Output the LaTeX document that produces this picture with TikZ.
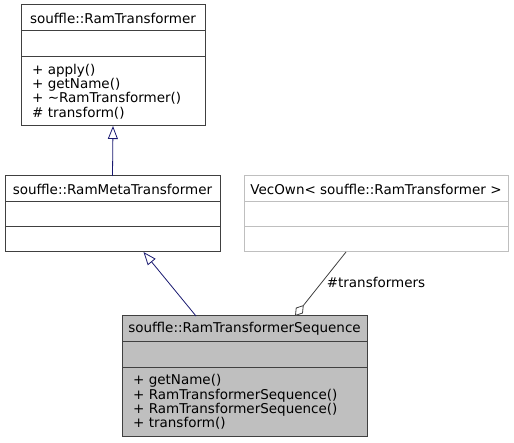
\documentclass[tikz,border=0pt]{standalone}
\usepackage{fontspec}
\setmainfont{DejaVu Sans}
\usetikzlibrary{arrows.meta,positioning}
\definecolor{edgegray}{HTML}{404040}
\definecolor{lightedge}{HTML}{BFBFBF}
\definecolor{fillgray}{HTML}{BFBFBF}
\definecolor{inheritblue}{HTML}{191970}
\begin{document}
\begin{tikzpicture}[x=1pt,y=-1pt]
	\tikzstyle{part}=[draw=edgegray,line width=1pt,rectangle,inner sep=0pt,outer sep=0pt,anchor=north west,font=\fontsize{13.5}{14.4}\selectfont]
	\tikzstyle{members}=[part,align=left,inner xsep=11pt]
	\tikzstyle{inherit}=[inheritblue,line width=0.8pt,-{Triangle[open,length=13pt,width=10pt,fill=white]}]
	\tikzstyle{aggregate}=[edgegray,line width=0.8pt,-{Diamond[open,length=14pt,width=9pt,fill=white]}]

	\useasboundingbox (0,0) rectangle (514,443);

	% base class
	\node[part,minimum width=184pt,minimum height=26pt] (transformer) at (21,5) {souffle::RamTransformer};
	\node[part,minimum width=184pt,minimum height=26pt,below=0pt of transformer] (transformer attr) {};
	\node[members,text width=162pt,minimum height=69pt,below=0pt of transformer attr] (transformer ops)
		{+ apply()\\+ getName()\\+ \textasciitilde RamTransformer()\\\# transform()};

	% meta class
	\node[part,minimum width=215pt,minimum height=26pt] (meta) at (5,176) {souffle::RamMetaTransformer};
	\node[part,minimum width=215pt,minimum height=25pt,below=0pt of meta] (meta attr) {};
	\node[part,minimum width=215pt,minimum height=25pt,below=0pt of meta attr] (meta ops) {};

	% container
	\node[part,draw=lightedge,minimum width=264pt,minimum height=26pt] (vecown) at (244,176) {VecOwn< souffle::RamTransformer >};
	\node[part,draw=lightedge,minimum width=264pt,minimum height=25pt,below=0pt of vecown] (vecown attr) {};
	\node[part,draw=lightedge,minimum width=264pt,minimum height=25pt,below=0pt of vecown attr] (vecown ops) {};

	% sequence
	\node[part,fill=fillgray,minimum width=245pt,minimum height=26pt] (sequence) at (122,316) {souffle::RamTransformerSequence};
	\node[part,fill=fillgray,minimum width=245pt,minimum height=26pt,below=0pt of sequence] (sequence attr) {};
	\node[members,fill=fillgray,text width=223pt,minimum height=68pt,below=0pt of sequence attr] (sequence ops)
		{+ getName()\\+ RamTransformerSequence()\\+ RamTransformerSequence()\\+ transform()};

	\draw[inherit] (meta.north) -- (transformer ops.south);
	\draw[inherit] ([xshift=-48.5pt]sequence.north) -- ([xshift=31pt]meta ops.south);
	\draw[aggregate] ([xshift=-30pt]vecown ops.south) -- ([xshift=50.5pt]sequence.north)
		node[pos=0.47,right=1pt,black,font=\fontsize{13.5}{14.4}\selectfont] (role) {\#transformers};
\end{tikzpicture}
\end{document}
